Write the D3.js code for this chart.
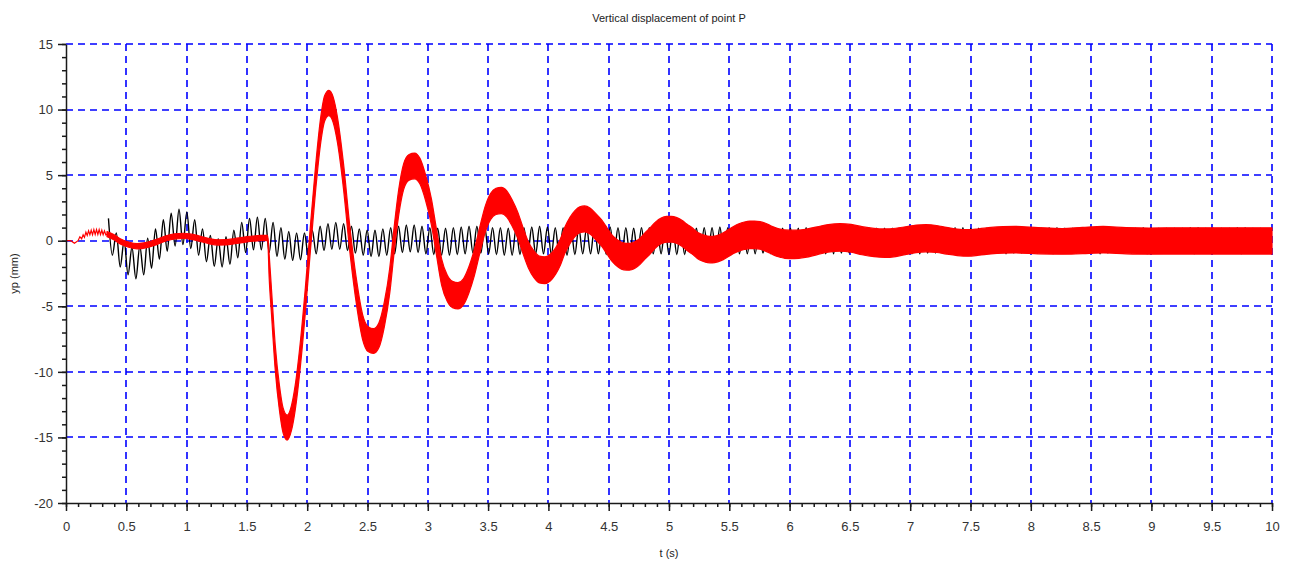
<!DOCTYPE html>
<html lang="en">
<head>
<meta charset="UTF-8">
<title>Vertical displacement of point P</title>
<script src="https://cdn.jsdelivr.net/npm/d3@7"></script>
<style>
    body { margin: 0; background: #fff; }
    .axis path,
    .axis line {
        fill: none;
        stroke: #1a1a1a;
        stroke-width: 1.5;
    }
    .axis text {
        font-family: "Liberation Sans", Arial, sans-serif;
        font-size: 13px;
        fill: #333;
    }
    .label {
        font-family: "Liberation Sans", Arial, sans-serif;
        font-size: 11px;
        fill: #222;
    }
</style>
</head>
<body>
<script>
// ticks
const xTicks = [0, 0.5, 1, 1.5, 2, 2.5, 3, 3.5, 4, 4.5, 5, 5.5, 6, 6.5, 7, 7.5, 8, 8.5, 9, 9.5, 10];
const yTicks = [-20, -15, -10, -5, 0, 5, 10, 15];

// red curve, first part (thin wiggly line), [t, yp]
const redHead = [
    [0, 0], [0.04, 0], [0.07, -0.2], [0.1, 0], [0.115, 0.3], [0.13, 0.15], [0.142, 0.45],
    [0.153, 0.25], [0.165, 0.65], [0.176, 0.4], [0.187, 0.75], [0.198, 0.45], [0.209, 0.8],
    [0.22, 0.45], [0.231, 0.85], [0.242, 0.48], [0.253, 0.85], [0.264, 0.48], [0.275, 0.85],
    [0.286, 0.47], [0.297, 0.8], [0.308, 0.45], [0.319, 0.75], [0.33, 0.45], [0.34, 0.5]
];

// red curve, dense part: [t, centre, half width of the fast oscillation band]
const redBand = [
    [0.34, 0.5, 0.2], [0.40, 0.25, 0.2], [0.45, -0.05, 0.2], [0.52, -0.3, 0.2], [0.59, -0.42, 0.2],
    [0.67, -0.33, 0.2], [0.75, -0.1, 0.2], [0.83, 0.18, 0.2], [0.90, 0.33, 0.2], [0.97, 0.37, 0.2],
    [1.04, 0.3, 0.2], [1.12, 0.12, 0.2], [1.19, -0.04, 0.2], [1.26, -0.13, 0.2], [1.33, -0.12, 0.2],
    [1.40, -0.03, 0.2], [1.48, 0.08, 0.2], [1.55, 0.16, 0.2], [1.62, 0.2, 0.2], [1.672, 0.2, 0.2],
    [1.685, -2.0, 0.9], [1.705, -4.8, 0.95], [1.735, -8.9, 0.95], [1.77, -12.0, 0.95], [1.80, -13.7, 0.95],
    [1.834, -14.25, 0.95], [1.87, -13.5, 0.95], [1.90, -12.0, 0.95], [1.945, -8.5, 0.95], [1.985, -4.5, 0.95],
    [2.025, 0, 0.95], [2.07, 4.8, 0.95], [2.11, 8.3, 0.97], [2.145, 10.1, 0.97], [2.18, 10.5, 0.97],
    [2.215, 10.0, 0.97], [2.25, 8.5, 0.97], [2.30, 5.0, 0.97], [2.355, 0, 0.96], [2.41, -4.0, 0.95],
    [2.46, -6.6, 0.95], [2.505, -7.5, 0.95], [2.55, -7.65, 0.95], [2.595, -7.2, 0.95], [2.64, -5.6, 0.95],
    [2.685, -3.0, 0.96], [2.72, 0, 0.97], [2.76, 3.0, 0.98], [2.80, 4.9, 0.98], [2.845, 5.6, 0.98],
    [2.89, 5.7, 0.98], [2.935, 5.3, 0.98], [2.98, 4.1, 0.98], [3.03, 2.2, 0.99], [3.07, 0, 0.99],
    [3.115, -2.4, 1.0], [3.16, -3.6, 1.0], [3.205, -4.1, 1.0], [3.25, -4.2, 1.0], [3.295, -3.9, 1.0],
    [3.34, -3.0, 1.0], [3.385, -1.7, 1.0], [3.43, 0, 1.0], [3.475, 1.6, 1.0], [3.52, 2.6, 1.0],
    [3.565, 3.0, 1.0], [3.61, 3.07, 1.0], [3.655, 2.8, 1.0], [3.70, 2.1, 1.0], [3.745, 1.2, 1.0],
    [3.79, 0, 1.0], [3.835, -1.1, 1.0], [3.88, -1.8, 1.02], [3.925, -2.2, 1.02], [3.97, -2.25, 1.02],
    [4.015, -2.05, 1.02], [4.06, -1.55, 1.0], [4.10, -0.85, 1.0], [4.135, 0, 1.0], [4.18, 0.8, 1.0],
    [4.22, 1.3, 0.99], [4.26, 1.6, 0.99], [4.30, 1.66, 0.99], [4.345, 1.5, 0.99], [4.39, 1.1, 1.0],
    [4.44, 0.6, 1.0], [4.485, 0, 1.0], [4.53, -0.6, 1.0], [4.58, -1.0, 1.02], [4.625, -1.2, 1.02],
    [4.67, -1.23, 1.02], [4.715, -1.1, 1.02], [4.76, -0.8, 1.0], [4.80, -0.4, 1.0], [4.845, 0, 1.0],
    [4.89, 0.45, 0.99], [4.935, 0.75, 0.98], [4.98, 0.87, 0.98], [5.02, 0.88, 0.98], [5.065, 0.78, 0.98],
    [5.11, 0.55, 0.99], [5.15, 0.25, 1.0], [5.19, 0, 1.0], [5.235, -0.35, 1.0], [5.28, -0.55, 1.01],
    [5.32, -0.66, 1.01], [5.36, -0.68, 1.01], [5.405, -0.6, 1.01], [5.45, -0.42, 1.02], [5.49, -0.2, 1.03],
    [5.535, 0.05, 1.03], [5.58, 0.25, 1.04], [5.625, 0.38, 1.05], [5.67, 0.45, 1.05], [5.71, 0.45, 1.05],
    [5.755, 0.4, 1.05], [5.80, 0.27, 1.06], [5.84, 0.1, 1.06], [5.875, -0.05, 1.07], [5.92, -0.18, 1.07],
    [5.96, -0.26, 1.08], [6.04, -0.28, 1.08], [6.13, -0.2, 1.07], [6.23, 0, 1.06], [6.32, 0.18, 1.05],
    [6.42, 0.25, 1.05], [6.51, 0.18, 1.06], [6.60, 0, 1.07], [6.70, -0.14, 1.08], [6.79, -0.19, 1.09],
    [6.88, -0.13, 1.08], [6.96, 0, 1.06], [7.05, 0.14, 1.05], [7.13, 0.19, 1.04], [7.22, 0.13, 1.03],
    [7.30, 0, 1.02], [7.39, -0.12, 1.01], [7.48, -0.17, 1.01], [7.57, -0.1, 1.01], [7.67, 0, 1.01],
    [7.77, 0.06, 1.01], [7.87, 0.08, 1.01], [8.06, 0.0, 1.0], [8.26, -0.05, 0.98], [8.43, 0.02, 1.0],
    [8.60, 0.08, 1.01], [8.79, 0.0, 1.0], [8.98, -0.03, 1.0], [9.24, -0.02, 1.0], [9.50, -0.02, 1.0],
    [9.75, -0.02, 1.0], [10.0, -0.02, 1.0]
];

// black curve: successive crest and trough values of the fast oscillation
const blackStart = 0.352;   // first crest (s)
const blackPeriod = 0.065;  // period of the fast oscillation (s)
const blackHi = [
    1.7, 0.6, 0.0, -0.5, -0.4, 0.2, 0.9, 1.6, 2.1, 2.4,
    2.2, 1.6, 0.9, 0.4, 0.15, 0.3, 0.8, 1.4, 1.7, 1.8,
    1.7, 1.4, 1.0, 0.7, 0.6, 0.6, 0.8, 1.1, 1.3, 1.4,
    1.3, 1.1, 0.9, 0.8, 0.8, 0.9, 1.0, 1.1, 1.2, 1.2,
    1.1, 1.0, 0.95, 0.95, 1.0, 1.05, 1.1, 1.1, 1.05, 1.0,
    1.0, 0.95, 0.95, 1.0, 1.05, 1.1, 1.05, 1.0, 1.0, 0.95,
    1.0, 1.0, 1.05, 1.05, 1.05, 1.0, 1.0, 0.95, 1.0, 1.0,
    1.05, 1.05, 1.0, 1.0, 0.95, 0.95, 1.0, 1.0, 1.05, 1.0,
    1.0, 0.95, 0.95, 1.0, 1.0, 1.0, 0.95, 0.95, 0.95, 1.0,
    1.0, 1.0, 0.95, 0.95, 0.95, 1.0, 1.0, 1.0, 0.95, 0.95,
    0.95, 0.95, 1.0, 1.0, 0.95, 0.95, 0.95, 0.95, 1.0, 1.0,
    0.95, 0.95, 0.95, 0.95, 1.0, 1.0, 0.95, 0.95, 0.95, 0.95,
    1.0, 1.0, 0.95, 0.95, 0.95, 0.95, 1.0, 1.0, 0.95, 0.95,
    0.95, 0.95, 1.0, 1.0, 0.95, 0.95, 0.95, 0.95, 1.0, 1.0,
    0.95, 0.95, 0.95, 0.95, 1.0, 1.0, 0.95, 0.95, 0.95
];
const blackLo = [
    -1.1, -2.0, -2.6, -2.9, -2.6, -2.1, -1.4, -0.8, -0.4, -0.3,
    -0.6, -1.1, -1.6, -1.95, -2.0, -1.8, -1.3, -0.9, -0.7, -0.7,
    -0.9, -1.2, -1.4, -1.5, -1.45, -1.2, -1.0, -0.75, -0.65, -0.65,
    -0.75, -0.95, -1.1, -1.2, -1.2, -1.1, -1.0, -0.9, -0.85, -0.9,
    -1.0, -1.05, -1.1, -1.1, -1.05, -1.0, -0.95, -0.95, -1.0, -1.05,
    -1.1, -1.1, -1.05, -1.0, -1.0, -1.0, -1.05, -1.1, -1.1, -1.05,
    -1.0, -1.0, -1.0, -1.05, -1.05, -1.1, -1.05, -1.0, -1.0, -1.0,
    -1.0, -1.05, -1.05, -1.05, -1.0, -1.0, -1.0, -1.0, -1.05, -1.05,
    -1.0, -1.0, -1.0, -0.95, -1.0, -1.0, -1.0, -1.0, -0.95, -0.95,
    -1.0, -1.0, -1.0, -0.95, -0.95, -0.95, -1.0, -1.0, -0.95, -0.95,
    -0.95, -0.95, -1.0, -1.0, -0.95, -0.95, -0.95, -0.95, -1.0, -0.95,
    -0.95, -0.95, -0.95, -0.95, -1.0, -0.95, -0.95, -0.95, -0.95, -0.95,
    -1.0, -0.95, -0.95, -0.95, -0.95, -0.95, -1.0, -0.95, -0.95, -0.95,
    -0.95, -0.95, -1.0, -0.95, -0.95, -0.95, -0.95, -0.95, -1.0, -0.95,
    -0.95, -0.95, -0.95, -0.95, -1.0, -0.95, -0.95, -0.95
];

// canvas
const width = 1291;
const height = 565;
const plot = {left: 66, right: 1272, top: 44, bottom: 503};

const svg = d3.select('body')
    .append('svg')
    .attr('width', width)
    .attr('height', height);

svg.append('rect')
    .attr('width', width)
    .attr('height', height)
    .attr('fill', '#fff');

const x = d3.scaleLinear().domain([0, 10]).range([plot.left, plot.right]);
const y = d3.scaleLinear().domain([-20, 15]).range([plot.bottom, plot.top]);

// grid lines sit on a pixel boundary so the blue dash covers two pixels
const px = v => Math.round(v);

// grid (blue dashes)
const grid = svg.append('g')
    .attr('fill', 'none')
    .attr('stroke', '#0000ff')
    .attr('stroke-width', 1.6)
    .attr('stroke-dasharray', '7,5');
grid.selectAll('line.gx')
    .data(xTicks.filter(d => d > 0))
    .enter()
    .append('line')
    .attr('class', 'gx')
    .attr('x1', d => px(x(d))).attr('x2', d => px(x(d)))
    .attr('y1', px(y(15))).attr('y2', px(y(-20)));
grid.selectAll('line.gy')
    .data(yTicks.filter(d => d > -20))
    .enter()
    .append('line')
    .attr('class', 'gy')
    .attr('y1', d => px(y(d))).attr('y2', d => px(y(d)))
    .attr('x1', px(x(0))).attr('x2', px(x(10)));

// black curve built from crests and troughs
const blackPts = [];
blackHi.forEach(function (v, k) {
    blackPts.push([blackStart + k * blackPeriod, v]);
    if (k < blackLo.length) {
        blackPts.push([blackStart + (k + 0.5) * blackPeriod, blackLo[k]]);
    }
});

svg.append('path')
    .datum(blackPts)
    .attr('fill', 'none')
    .attr('stroke', '#000')
    .attr('stroke-width', 1.4)
    .attr('d', d3.line()
        .x(d => x(d[0]))
        .y(d => y(d[1]))
        .curve(d3.curveMonotoneX));

// red curve
svg.append('path')
    .datum(redHead)
    .attr('fill', 'none')
    .attr('stroke', '#ff0000')
    .attr('stroke-width', 1.2)
    .attr('d', d3.line()
        .x(d => x(d[0]))
        .y(d => y(d[1])));

svg.append('path')
    .datum(redBand)
    .attr('fill', '#ff0000')
    .attr('stroke', '#ff0000')
    .attr('stroke-width', 1.2)
    .attr('stroke-linejoin', 'round')
    .attr('d', d3.area()
        .x(d => x(d[0]))
        .y0(d => y(d[1] - d[2]))
        .y1(d => y(d[1] + d[2]))
        .curve(d3.curveMonotoneX));

// axes
const fmt = d => String(d);

svg.append('g')
    .attr('class', 'axis')
    .attr('transform', 'translate(0,' + plot.bottom + ')')
    .call(d3.axisBottom(x).tickValues(xTicks).tickSize(8).tickSizeOuter(0).tickPadding(11).tickFormat(fmt));

svg.append('g')
    .attr('class', 'axis')
    .attr('transform', 'translate(0,' + plot.bottom + ')')
    .call(d3.axisBottom(x).tickValues(d3.range(0, 101).map(i => i / 10)).tickSize(4).tickFormat(''))
    .select('.domain').remove();

svg.append('g')
    .attr('class', 'axis')
    .attr('transform', 'translate(' + plot.left + ',0)')
    .call(d3.axisLeft(y).tickValues(yTicks).tickSize(8).tickSizeOuter(0).tickPadding(5).tickFormat(fmt));

svg.append('g')
    .attr('class', 'axis')
    .attr('transform', 'translate(' + plot.left + ',0)')
    .call(d3.axisLeft(y).tickValues(d3.range(-20, 16)).tickSize(4).tickFormat(''))
    .select('.domain').remove();

// texts
svg.append('text')
    .attr('class', 'label')
    .attr('x', (plot.left + plot.right) / 2)
    .attr('y', 22)
    .attr('text-anchor', 'middle')
    .text('Vertical displacement of point P');

svg.append('text')
    .attr('class', 'label')
    .attr('x', (plot.left + plot.right) / 2)
    .attr('y', 557)
    .attr('text-anchor', 'middle')
    .text('t (s)');

svg.append('text')
    .attr('class', 'label')
    .attr('transform', 'translate(18,' + ((plot.top + plot.bottom) / 2) + ') rotate(-90)')
    .attr('text-anchor', 'middle')
    .text('yp (mm)');
</script>
</body>
</html>
